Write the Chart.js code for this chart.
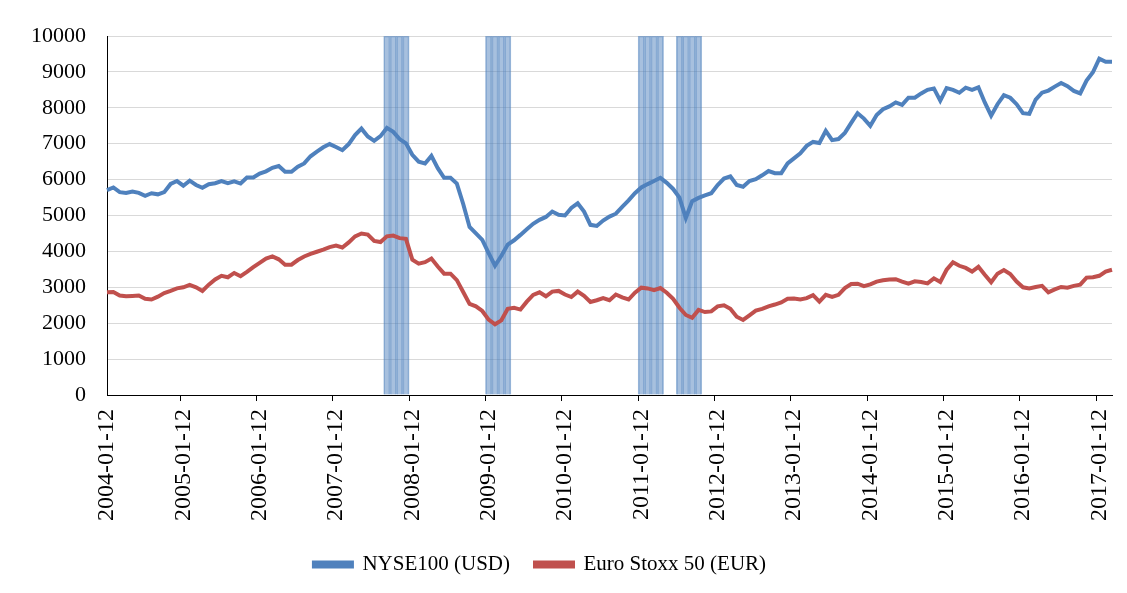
<!DOCTYPE html>
<html>
<head>
<meta charset="utf-8">
<script src="https://cdn.jsdelivr.net/npm/chart.js@4.4.1/dist/chart.umd.min.js"></script>
<style>
  body { margin: 0; background: #fff; }
</style>
</head>
<body>
<canvas id="graficoIndices" width="1127" height="593"></canvas>
<script>
// meses: 2004-01-12 ... 2017-03-12
const meses = [];
for (let a = 2004; a <= 2017; a++) {
    for (let m = 1; m <= 12; m++) {
        if (a === 2017 && m > 3) break;
        meses.push(a + '-' + String(m).padStart(2, '0') + '-12');
    }
}

const nyse100 = [
    5710, 5780, 5650, 5630, 5670, 5630, 5550, 5620, 5590, 5650, 5880, 5960,
    5830, 5970, 5850, 5770, 5870, 5900, 5960, 5900, 5950, 5890, 6060, 6060,
    6170, 6230, 6330, 6380, 6220, 6220, 6360, 6450, 6650, 6780, 6900, 6990,
    6910, 6820, 6990, 7240, 7420, 7200, 7080, 7210, 7440, 7330, 7130, 7010,
    6690, 6500, 6450, 6660, 6320, 6050, 6050, 5890, 5320, 4680, 4500, 4320,
    3950, 3600, 3880, 4190, 4310, 4460, 4620, 4770, 4880, 4960, 5110, 5020,
    5000, 5210, 5340, 5110, 4740, 4710, 4860, 4970, 5050, 5240, 5420, 5620,
    5780, 5875, 5960, 6050, 5910, 5740, 5500, 4930, 5400, 5490, 5560, 5620,
    5850, 6030, 6090, 5850, 5800, 5960, 6010, 6120, 6240, 6180, 6180, 6450,
    6590, 6730, 6940, 7050, 7020, 7360, 7100, 7130, 7300, 7580, 7850, 7700,
    7500, 7800, 7960, 8040, 8150, 8080, 8280, 8280, 8400, 8500, 8540, 8200,
    8550, 8500, 8420, 8560, 8500, 8570, 8150, 7780, 8100, 8350, 8280, 8100,
    7850, 7830, 8230, 8420, 8480, 8590, 8690, 8600, 8470, 8400, 8760, 8990,
    9370, 9280, 9280
];

const eurostoxx50 = [
    2860, 2870, 2770, 2750, 2760, 2770, 2680, 2660, 2740, 2840, 2900, 2970,
    3000, 3070, 3000, 2900, 3075, 3220, 3320, 3280, 3400, 3310, 3430, 3560,
    3680, 3800, 3860, 3780, 3630, 3630, 3760, 3860, 3930, 3990, 4050, 4120,
    4160, 4110, 4250, 4420, 4500, 4470, 4290, 4260, 4420, 4440, 4370, 4350,
    3770, 3660, 3700, 3800, 3580, 3380, 3380, 3200, 2870, 2540, 2470, 2340,
    2100, 1970, 2080, 2400, 2430, 2380, 2600, 2790, 2860, 2750, 2880, 2900,
    2800, 2730, 2880, 2760, 2590, 2640, 2700, 2640, 2800, 2720, 2660, 2850,
    2990, 2970, 2920, 2980, 2850, 2680, 2430, 2230, 2150, 2370, 2310, 2330,
    2470, 2500, 2400, 2180, 2090, 2220, 2350, 2400, 2470, 2520, 2580, 2680,
    2690, 2660, 2700, 2780, 2600, 2790, 2730, 2790, 2980, 3090, 3100, 3030,
    3080, 3160, 3195, 3220, 3225, 3160, 3100, 3167, 3150, 3110, 3250, 3150,
    3490, 3695, 3600, 3540, 3440, 3570, 3350, 3140, 3380, 3480, 3370, 3160,
    3000, 2970, 3010, 3040, 2860, 2940, 3010, 2990, 3040, 3075, 3270, 3280,
    3320, 3440, 3490
];

// meses sombreados
const mesesSombreados = [
    '2007-09-12', '2007-10-12', '2007-11-12', '2007-12-12',
    '2009-01-12', '2009-02-12', '2009-03-12', '2009-04-12',
    '2011-01-12', '2011-02-12', '2011-03-12', '2011-04-12',
    '2011-07-12', '2011-08-12', '2011-09-12', '2011-10-12'
];
const alturaSombra = 10000;

// la leyenda en el original no esta centrada en el lienzo
const moverLeyenda = {
    id: 'moverLeyenda',
    afterLayout(chart) {
        chart.legend.left -= 21;
        chart.legend.right -= 21;
    }
};

document.addEventListener('DOMContentLoaded', function(){
    const sombra = meses.map(m => mesesSombreados.includes(m) ? alturaSombra : null);
    const fuente = 'Liberation Serif';

    const ctx = document.getElementById('graficoIndices').getContext('2d');
    new Chart(ctx, {
        type: 'line',
        data: {
            labels: meses,
            datasets: [
                {
                    label: 'NYSE100 (USD)',
                    data: nyse100,
                    borderColor: '#4f81bd',
                    backgroundColor: '#4f81bd',
                    borderWidth: 4,
                    pointRadius: 0,
                    tension: 0,
                    order: 0
                },
                {
                    label: 'Euro Stoxx 50 (EUR)',
                    data: eurostoxx50,
                    borderColor: '#c0504d',
                    backgroundColor: '#c0504d',
                    borderWidth: 4,
                    pointRadius: 0,
                    tension: 0,
                    order: 1
                },
                {
                    type: 'bar',
                    label: 'sombra',
                    data: sombra,
                    backgroundColor: 'rgba(79, 129, 189, 0.5)',
                    borderColor: 'rgba(79, 129, 189, 0.55)',
                    borderWidth: 1,
                    barPercentage: 1,
                    categoryPercentage: 1,
                    order: 2
                }
            ]
        },
        options: {
            responsive: false,
            animation: false,
            devicePixelRatio: 1,
            layout: {
                padding: { left: 10, right: 15, top: 36, bottom: 8 }
            },
            plugins: {
                tooltip: { enabled: false },
                legend: {
                    position: 'bottom',
                    labels: {
                        filter: item => item.datasetIndex !== 2,
                        boxWidth: 38,
                        boxHeight: 4,
                        padding: 25,
                        color: '#000',
                        font: { family: fuente, size: 21 }
                    }
                }
            },
            scales: {
                x: {
                    offset: false,
                    afterFit: s => { s.paddingLeft = 0; s.paddingRight = 0; },
                    grid: {
                        drawOnChartArea: false,
                        tickLength: 6,
                        color: c => c.index % 12 === 0 ? '#000' : 'rgba(0,0,0,0)'
                    },
                    border: { color: '#000', width: 1 },
                    ticks: {
                        autoSkip: false,
                        maxRotation: 90,
                        minRotation: 90,
                        padding: 8,
                        color: '#000',
                        font: { family: fuente, size: 24 },
                        callback: (v, i) => i % 12 === 0 ? meses[i] : ''
                    }
                },
                y: {
                    min: 0,
                    max: 10000,
                    grid: { color: '#d9d9d9', drawTicks: false },
                    border: { color: '#000', width: 1 },
                    ticks: {
                        stepSize: 1000,
                        padding: 21,
                        color: '#000',
                        font: { family: fuente, size: 22 },
                        callback: v => v
                    }
                }
            }
        },
        plugins: [moverLeyenda]
    });
});
</script>
</body>
</html>
